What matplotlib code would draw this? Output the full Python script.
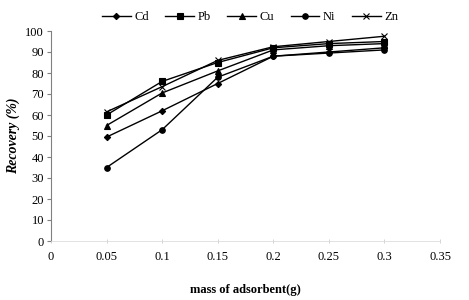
import matplotlib
matplotlib.use("Agg")
import matplotlib.pyplot as plt

mass = [0.05, 0.1, 0.15, 0.2, 0.25, 0.3]
cd = [49.5, 62, 75, 88, 90, 92]
pb = [60, 76, 85, 92, 94, 95]
cu = [55, 70.5, 81, 91, 93, 94]
ni = [35, 53, 78, 88, 89.5, 91]
zn = [61.5, 73.5, 86, 92.5, 95, 97.5]

series = [("Cd", cd, "D", 3.2), ("Pb", pb, "s", 4.2), ("Cu", cu, "^", 4.2),
          ("Ni", ni, "o", 4.0), ("Zn", zn, "x", 4.5)]

plt.rcParams['font.family'] = ['Liberation Serif', 'DejaVu Serif']

fig = plt.figure(figsize=(4.69, 3.0), dpi=100)
ax = fig.add_axes([51/469, 1-241/300, (440-51)/469, (241-31)/300])

for name, vals, m, ms in series:
    ax.plot(mass, vals, color="black", lw=1.0, marker=m, markersize=ms,
            markeredgewidth=0.8, label=name)

ax.set_xlim(0, 0.35)
ax.set_ylim(0, 100)
ax.set_xticks([0, 0.05, 0.1, 0.15, 0.2, 0.25, 0.3, 0.35])
ax.set_xticklabels(["0", "0.05", "0.1", "0.15", "0.2", "0.25", "0.3", "0.35"])
ax.set_yticks(range(0, 101, 10))
for s in ["top", "right"]:
    ax.spines[s].set_visible(False)
ax.spines["bottom"].set_color("#dddddd")
ax.spines["bottom"].set_linewidth(0.6)
ax.spines["left"].set_color("#808080")
ax.spines["left"].set_linewidth(0.8)
ax.tick_params(axis="y", length=3, width=0.8, color="#808080", labelsize=9, pad=2)
ax.tick_params(axis="x", length=3, width=0.6, color="#cccccc", labelsize=9, pad=6,
               direction="inout")

ax.set_xlabel("mass of adsorbent(g)", fontsize=9, fontweight="bold", labelpad=15)
ax.set_ylabel("Recovery (%)", fontsize=10, fontweight="bold", style="italic", labelpad=4)

fig.legend(loc="upper center", bbox_to_anchor=(250/469, 1.0), ncol=5, frameon=False,
           fontsize=9, handlelength=2.3, columnspacing=1.3, handletextpad=0.3)

fig.savefig("out.png", dpi=100)
